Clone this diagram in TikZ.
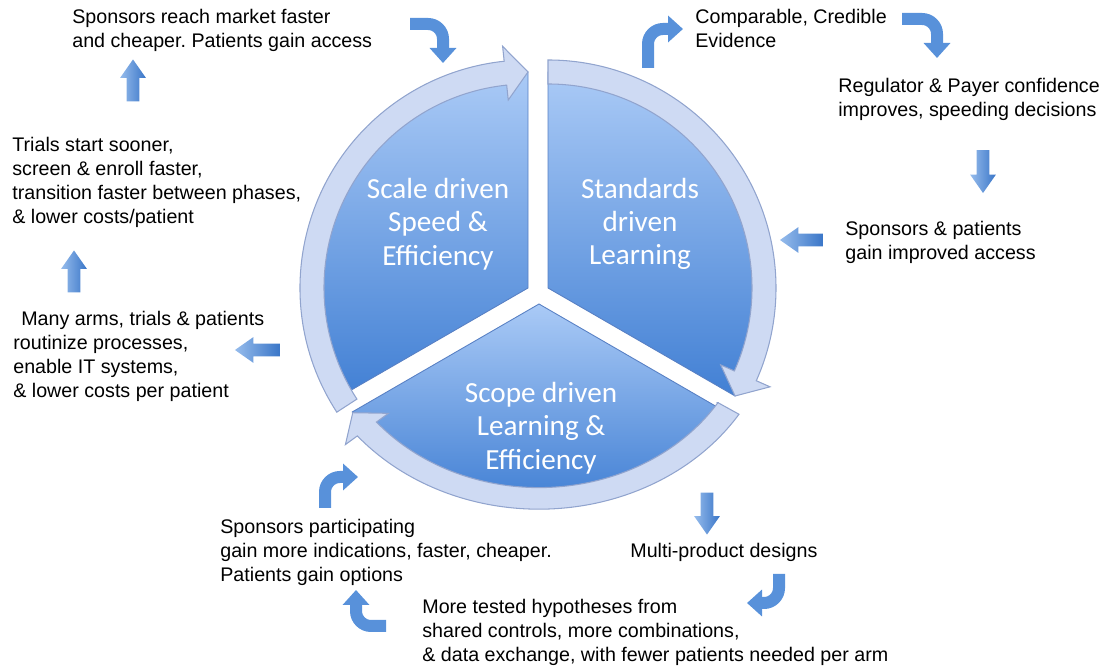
\documentclass[tikz,border=0pt]{standalone}
\usepackage{fontspec}
\setmainfont{Liberation Sans}
\newfontfamily\segfont{Carlito}
\usepackage{tikz}
\usetikzlibrary{shapes.arrows,arrows.meta}
\frenchspacing

\definecolor{segtop}{RGB}{170,202,246}
\definecolor{segbot}{RGB}{66,128,212}
\definecolor{segline}{RGB}{88,128,196}
\definecolor{bandfill}{RGB}{206,218,243}
\definecolor{bandline}{RGB}{145,164,206}
\definecolor{arrlight}{RGB}{150,188,236}
\definecolor{arrdark}{RGB}{58,118,200}
\definecolor{arrmid}{RGB}{88,145,218}

% one slice of the pie: [scaling], apex, start angle, end angle
\newcommand{\pieseg}[4][]{%
  \begin{scope}[shift={(#2)},#1]
    \shadedraw[seg] (0,0) -- (#3:216) arc[start angle=#3, end angle=#4, radius=216] -- cycle;
  \end{scope}}

% curved band arrow round a slice, clockwise from tail angle to tip angle
\newcommand{\cyclearrow}[4][]{%
  \begin{scope}[shift={(#2)},#1]
    \filldraw[band] (#3:204) -- (#3:228)
      arc[start angle=#3, end angle=#4+6, radius=228]
      -- (#4+6:243) -- (#4:216) -- (#4+6:189) -- (#4+6:204)
      arc[start angle=#4+6, end angle=#3, radius=204] -- cycle;
  \end{scope}}

\begin{document}
\begin{tikzpicture}[x=0.02cm,y=0.02cm,
  seg/.style={top color=segtop,bottom color=segbot,draw=segline,line width=0.5pt},
  band/.style={fill=bandfill,draw=bandline,line width=0.6pt},
  note/.style={anchor=north west,align=left,inner sep=0pt,font=\fontsize{11.2}{13.6}\selectfont},
  seglabel/.style={align=center,text=white,font=\segfont\fontsize{16.6}{19}\selectfont},
  flowarrow/.style={single arrow,draw=none,inner xsep=0pt,inner ysep=0.12cm,
    single arrow head extend=0.13cm,single arrow tip angle=70,left color=arrlight,right color=arrdark},
  bentarrow/.style={draw=arrmid,line width=0.24cm,rounded corners=0.3cm,-{Triangle[length=0.3cm,width=0.52cm]}}]
  \useasboundingbox (0,0) rectangle (1104,668);

  \coordinate (scaleC) at (528,380);
  \coordinate (stdC) at (548,380);
  \coordinate (scopeC) at (539,364);

  \pieseg{scaleC}{90}{210}
  \pieseg{stdC}{-30}{90}
  \pieseg[xscale=1.04,yscale=0.9]{scopeC}{213.75}{326.25}

  \cyclearrow{scaleC}{213}{90}
  \cyclearrow{stdC}{90}{-30}
  \cyclearrow[xscale=1.04,yscale=0.9]{scopeC}{-32.5}{-146}

  \node[seglabel] (scale) at (438,444) {Scale driven\\Speed \&\\Efficiency};
  \node[seglabel] (std) at (640,444) {Standards\\driven\\Learning};
  \node[seglabel] (scope) at (541,240) {Scope driven\\Learning \&\\Efficiency};

  \node[note] (market) at (72,659) {Sponsors reach market faster\\and cheaper. Patients gain access};
  \node[note] (trials) at (12,531) {Trials start sooner,\\screen \& enroll faster,\\transition faster between phases,\\\& lower costs/patient};
  \node[note] (arms) at (13,357) {\hspace*{0.16cm}Many arms, trials \& patients\\routinize processes,\\enable IT systems,\\\& lower costs per patient};
  \node[note] (evidence) at (695,659) {Comparable, Credible\\Evidence};
  \node[note] (regulator) at (838,590) {Regulator \& Payer confidence\\improves, speeding decisions};
  \node[note] (access) at (845,447) {Sponsors \& patients\\gain improved access};
  \node[note] (multi) at (630,125) {Multi-product designs};
  \node[note] (tested) at (422,69) {More tested hypotheses from\\shared controls, more combinations,\\\& data exchange, with fewer patients needed per arm};
  \node[note] (options) at (220,149) {Sponsors participating\\gain more indications, faster, cheaper.\\Patients gain options};

  \node[flowarrow,minimum height=0.84cm,rotate=90] (up1) at (133,583) {};
  \node[flowarrow,minimum height=0.84cm,rotate=90] (up2) at (74,392) {};
  \node[flowarrow,minimum height=0.9cm,rotate=180] (left1) at (262,318) {};
  \node[flowarrow,minimum height=0.86cm,rotate=-90] (down1) at (983,501) {};
  \node[flowarrow,minimum height=0.86cm,rotate=180] (left2) at (806,428) {};
  \node[flowarrow,minimum height=0.84cm,rotate=-90] (down2) at (707,159) {};

  \draw[bentarrow] (410,644) -- (443,644) -- (443,605);
  \draw[bentarrow] (648,600) -- (648,639) -- (683,639);
  \draw[bentarrow] (902,649) -- (937,649) -- (937,610);
  \draw[bentarrow] (779,94) -- (779,65) -- (747,65);
  \draw[bentarrow] (386,42) -- (356,42) -- (356,78);
  \draw[bentarrow] (325,160) -- (325,191) -- (358,191);
\end{tikzpicture}
\end{document}
